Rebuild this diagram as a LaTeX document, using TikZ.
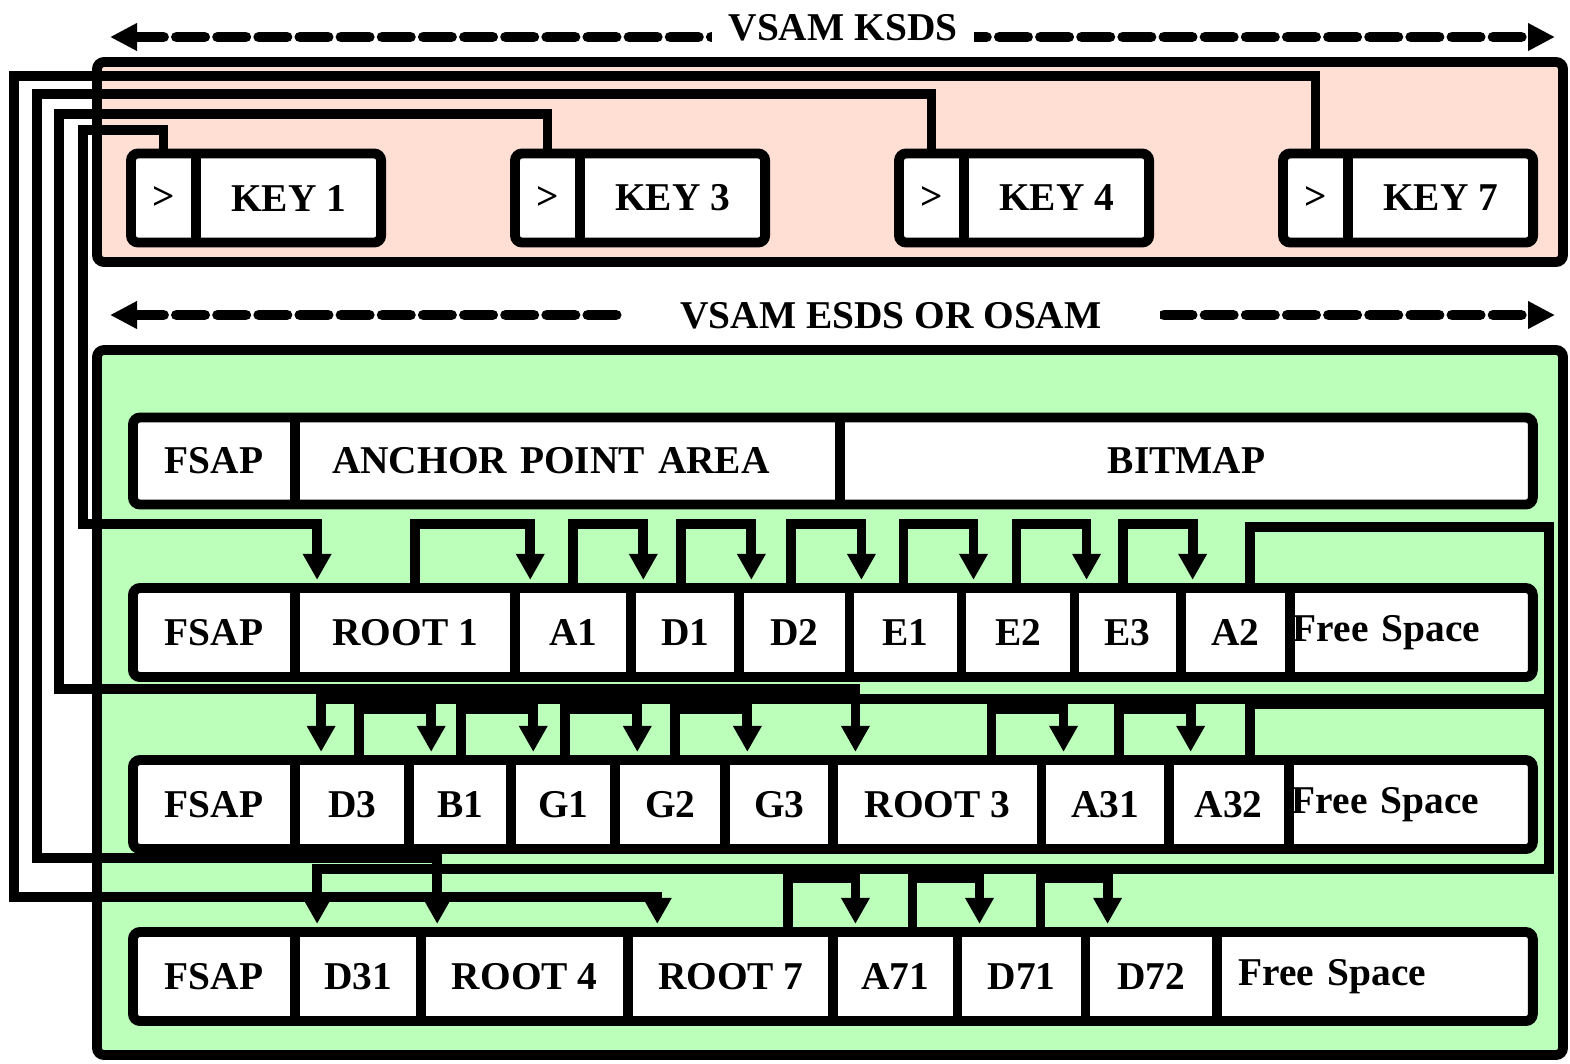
\documentclass[tikz,border=0pt]{standalone}
\usepackage{fontspec}
\setmainfont{Liberation Serif}
\usepackage{tikz}
\usetikzlibrary{positioning, arrows.meta, fit}
\definecolor{ksdspink}{HTML}{FFDFD4}
\definecolor{esdsgreen}{HTML}{BBFFBB}

\tikzset{
  cell/.style={fill=white, inner sep=0pt, outer sep=0pt, minimum height=0.89cm},
  rowbox/.style={draw, line width=2.8pt, rounded corners=2pt, inner sep=0pt},
  wall/.style={line width=2.8pt},
  rail/.style={line width=2.8pt},
  ptr/.style={line width=2.8pt, -{Triangle[length=0.26cm, width=0.27cm]}, shorten >=2.3pt},
  spanarrow/.style={line width=3.1pt, dash pattern=on 8pt off 3.7pt, line cap=round,
    {Triangle[length=0.27cm, width=0.26cm]}-{Triangle[length=0.27cm, width=0.26cm]}},
  spanlabel/.style={fill=white, inner sep=0pt},
}

\begin{document}
\begin{tikzpicture}[x=0.01cm, y=-0.01cm, font=\fontsize{11.2}{13}\selectfont\bfseries]
  \useasboundingbox (0,0) rectangle (1570,1063);

  % the two data sets
  \draw[line width=2.8pt, rounded corners=2pt, fill=ksdspink] (97,62) rectangle (1563,262);
  \draw[line width=2.8pt, rounded corners=2pt, fill=esdsgreen] (97,350) rectangle (1563,1055);

  % extent arrows
  \coordinate (ksdsL) at (110,37);
  \coordinate (ksdsR) at (1555,37);
  \draw[spanarrow] (ksdsL) -- (ksdsR);
  \node[spanlabel, minimum width=2.61cm, minimum height=0.56cm] (ksds) at (843,28) {VSAM KSDS};
  \coordinate (esdsL) at (110,315);
  \coordinate (esdsR) at (1555,315);
  \draw[spanarrow] (esdsL) -- (esdsR);
  \node[spanlabel, minimum width=5.38cm, minimum height=0.42cm] (esds) at (891,316) {VSAM ESDS OR OSAM};

  % index entries
  \node[cell, minimum width=0.65cm, anchor=west] (gt1) at (131,198) {>};
  \node[cell, minimum width=1.85cm, right=0pt of gt1] (key1) {KEY 1};
  \node[cell, minimum width=0.65cm, anchor=west] (gt3) at (515,198) {>};
  \node[cell, minimum width=1.85cm, right=0pt of gt3] (key3) {KEY 3};
  \node[cell, minimum width=0.65cm, anchor=west] (gt4) at (899,198) {>};
  \node[cell, minimum width=1.85cm, right=0pt of gt4] (key4) {KEY 4};
  \node[cell, minimum width=0.65cm, anchor=west] (gt7) at (1283,198) {>};
  \node[cell, minimum width=1.85cm, right=0pt of gt7] (key7) {KEY 7};
  \foreach \k in {1,3,4,7} {
    \node[rowbox, fit=(gt\k)(key\k)] {};
    \draw[wall] (key\k.north west) -- (key\k.south west);
  }

  % control interval header
  \node[cell, minimum width=1.62cm, minimum height=0.87cm, anchor=west] (FSAP0) at (133,461) {FSAP};
  \node[cell, text width=4.71cm, inner xsep=0.37cm, align=left, minimum height=0.87cm, right=0pt of FSAP0] (APA) {ANCHOR POINT AREA};
  \node[cell, minimum width=6.92cm, minimum height=0.87cm, right=0pt of APA] (BITMAP) {BITMAP};

  % block 1
  \node[cell, minimum width=1.62cm, anchor=west] (FSAP1) at (133,632.5) {FSAP};
  \node[cell, minimum width=2.20cm, right=0pt of FSAP1] (ROOT1) {ROOT 1};
  \node[cell, minimum width=1.16cm, right=0pt of ROOT1] (A1) {A1};
  \node[cell, minimum width=1.08cm, right=0pt of A1] (D1) {D1};
  \node[cell, minimum width=1.10cm, right=0pt of D1] (D2) {D2};
  \node[cell, minimum width=1.12cm, right=0pt of D2] (E1) {E1};
  \node[cell, minimum width=1.13cm, right=0pt of E1] (E2) {E2};
  \node[cell, minimum width=1.06cm, right=0pt of E2] (E3) {E3};
  \node[cell, minimum width=1.09cm, right=0pt of E3] (A2) {A2};
  \node[cell, text width=2.37cm, inner xsep=0.03cm, align=left, right=0pt of A2] (FS1) {Free Space};

  % block 2
  \node[cell, minimum width=1.62cm, anchor=west] (FSAP2) at (133,804.5) {FSAP};
  \node[cell, minimum width=1.14cm, right=0pt of FSAP2] (D3) {D3};
  \node[cell, minimum width=1.02cm, right=0pt of D3] (B1) {B1};
  \node[cell, minimum width=1.04cm, right=0pt of B1] (G1) {G1};
  \node[cell, minimum width=1.10cm, right=0pt of G1] (G2) {G2};
  \node[cell, minimum width=1.08cm, right=0pt of G2] (G3) {G3};
  \node[cell, minimum width=2.08cm, right=0pt of G3] (ROOT3) {ROOT 3};
  \node[cell, minimum width=1.27cm, right=0pt of ROOT3] (A31) {A31};
  \node[cell, minimum width=1.20cm, right=0pt of A31] (A32) {A32};
  \node[cell, text width=2.38cm, inner xsep=0.03cm, align=left, right=0pt of A32] (FS2) {Free Space};

  % block 3
  \node[cell, minimum width=1.62cm, anchor=west] (FSAP3) at (133,976.5) {FSAP};
  \node[cell, minimum width=1.26cm, right=0pt of FSAP3] (D31) {D31};
  \node[cell, minimum width=2.07cm, right=0pt of D31] (ROOT4) {ROOT 4};
  \node[cell, minimum width=2.05cm, right=0pt of ROOT4] (ROOT7) {ROOT 7};
  \node[cell, minimum width=1.24cm, right=0pt of ROOT7] (A71) {A71};
  \node[cell, minimum width=1.28cm, right=0pt of A71] (D71) {D71};
  \node[cell, minimum width=1.31cm, right=0pt of D71] (D72) {D72};
  \node[cell, text width=2.72cm, inner xsep=0.22cm, align=left, right=0pt of D72] (FS3) {Free Space};

  % outlines and walls
  \node[rowbox, fit=(FSAP0)(BITMAP)] {};
  \node[rowbox, fit=(FSAP1)(FS1)] {};
  \node[rowbox, fit=(FSAP2)(FS2)] {};
  \node[rowbox, fit=(FSAP3)(FS3)] {};
  \foreach \c in {APA,BITMAP,ROOT1,A1,D1,D2,E1,E2,E3,A2,FS1,D3,B1,G1,G2,G3,ROOT3,A31,A32,FS2,D31,ROOT4,ROOT7,A71,D71,D72,FS3}
    \draw[wall] (\c.north west) -- (\c.south west);

  % index pointers to roots
  \draw[ptr] (gt7.north) |- (14,76) -- (14,897) -| ([xshift=0.29cm]ROOT7.north west);
  \draw[ptr] (gt4.north) |- (37,94) -- (37,858) -| ([xshift=0.16cm]ROOT4.north west);
  \draw[ptr] (gt3.north) |- (59,114) -- (59,689) -| ([xshift=0.22cm]ROOT3.north west);
  \draw[ptr] (gt1.north) |- (83,130) -- (83,524) -| ([xshift=0.22cm]ROOT1.north west);

  % segment chains
  \draw[ptr] ([xshift=-1.0cm]ROOT1.north east) -- ++(0,-64) -| ([xshift=0.15cm]A1.north west);
  \foreach \s/\t in {A1/D1, D1/D2, D2/E1, E1/E2, E2/E3, E3/A2}
    \draw[ptr] ([xshift=-0.58cm]\s.north east) -- ++(0,-64) -| ([xshift=0.12cm]\t.north west);
  \draw[ptr] ([xshift=-0.4cm]A2.north east) -- ++(0,-61) -| (1549,699) -| ([xshift=0.26cm]D3.north west);
  \foreach \s/\t in {D3/B1, B1/G1, G1/G2, G2/G3, ROOT3/A31, A31/A32}
    \draw[ptr] ([xshift=-0.5cm]\s.north east) -- ++(0,-51) -| ([xshift=0.22cm]\t.north west);
  \draw[ptr] ([xshift=-0.39cm]A32.north east) -- ++(0,-56) -| (1549,869) -| ([xshift=0.22cm]D31.north west);
  \foreach \s/\t in {ROOT7/A71, A71/D71, D71/D72}
    \draw[ptr] ([xshift=-0.45cm]\s.north east) -- ++(0,-54) -| ([xshift=0.22cm]\t.north west);
\end{tikzpicture}
\end{document}
